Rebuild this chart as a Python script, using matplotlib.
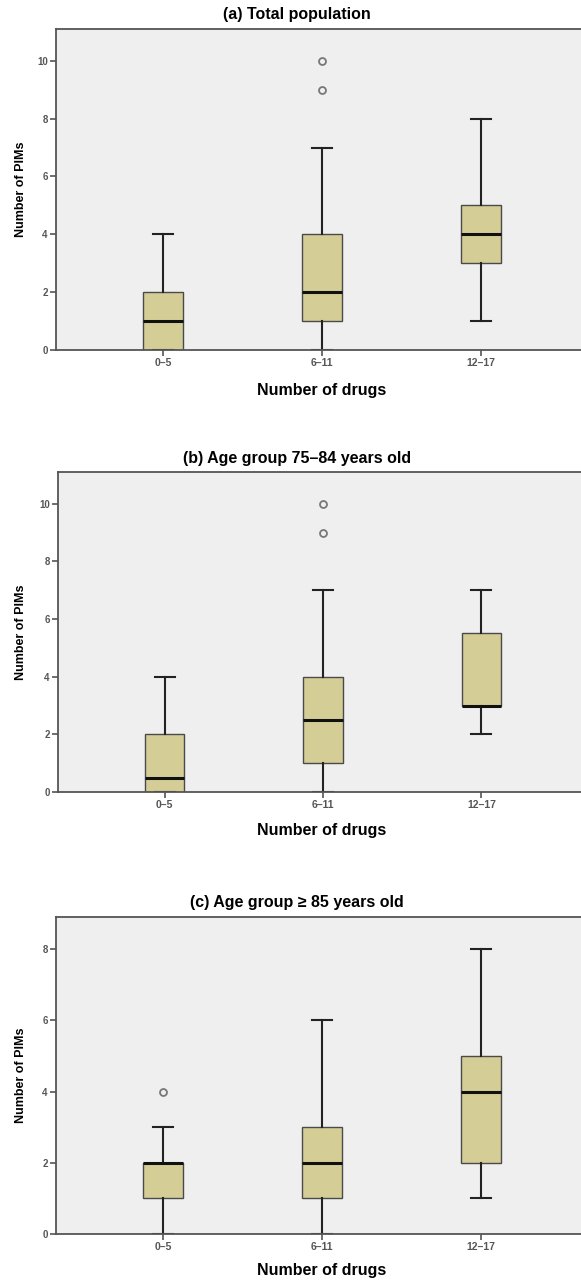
import matplotlib
matplotlib.use('Agg')
import matplotlib.pyplot as plt

# Number of PIMs by number of drugs, box summaries
categories = ['0\u20135', '6\u201311', '12\u201317']

titles = ['(a) Total population',
          '(b) Age group 75\u201384 years old',
          '(c) Age group \u2265 85 years old']

# order per panel: lower whisker, Q1, median, Q3, upper whisker
a_whislo = [0, 0, 1]
a_q1 = [0, 1, 3]
a_med = [1, 2, 4]
a_q3 = [2, 4, 5]
a_whishi = [4, 7, 8]
a_fliers = [[], [9, 10], []]

b_whislo = [0, 0, 2]
b_q1 = [0, 1, 3]
b_med = [0.5, 2.5, 3]
b_q3 = [2, 4, 5.5]
b_whishi = [4, 7, 7]
b_fliers = [[], [9, 10], []]

c_whislo = [0, 0, 1]
c_q1 = [1, 1, 2]
c_med = [2, 2, 4]
c_q3 = [2, 3, 5]
c_whishi = [3, 6, 8]
c_fliers = [[4], [], []]

panels = [
    (a_whislo, a_q1, a_med, a_q3, a_whishi, a_fliers, [0, 2, 4, 6, 8, 10], 11.1),
    (b_whislo, b_q1, b_med, b_q3, b_whishi, b_fliers, [0, 2, 4, 6, 8, 10], 11.1),
    (c_whislo, c_q1, c_med, c_q3, c_whishi, c_fliers, [0, 2, 4, 6, 8], 8.9),
]

plt.rcParams['font.family'] = ['Liberation Sans', 'DejaVu Sans']

W, H = 581, 1280
fig = plt.figure(figsize=(W / 100, H / 100), dpi=100)

# axes boxes in pixels: left, top, bottom ; right spine sits just off the canvas
ax_px = [(56, 29, 350), (58, 472, 792), (56, 917, 1234)]
title_y = [15, 458, 902]
xlab_y = [390, 830, 1271]

BOX = '#d4ce96'
EDGE = '#4a4a4a'
TICKC = '#555555'

for i, (wlo, q1, med, q3, whi, fl, yt, ytop) in enumerate(panels):
    left, top, bot = ax_px[i]
    right = 588
    ax = fig.add_axes([left / W, 1 - bot / H, (right - left) / W, (bot - top) / H])
    ax.set_facecolor('#efefef')

    stats = []
    for k in range(len(categories)):
        stats.append({'whislo': wlo[k], 'q1': q1[k], 'med': med[k],
                      'q3': q3[k], 'whishi': whi[k], 'fliers': fl[k]})

    ax.bxp(stats, positions=[1, 2, 3], widths=0.25, patch_artist=True,
           showfliers=True,
           boxprops=dict(facecolor=BOX, edgecolor=EDGE, linewidth=1.0),
           medianprops=dict(color='#111111', linewidth=2.2),
           whiskerprops=dict(color='#222222', linewidth=1.5),
           capprops=dict(color='#222222', linewidth=1.5),
           capwidths=0.125,
           flierprops=dict(marker='o', markersize=5, markerfacecolor='none',
                           markeredgecolor='#777777', markeredgewidth=1.3))

    ax.set_xlim(0.327, 3.673)
    ax.set_ylim(0, ytop)
    ax.set_yticks(yt)
    ax.set_xticks([1, 2, 3])
    ax.set_xticklabels(categories)

    for s in ['left', 'bottom', 'top', 'right']:
        ax.spines[s].set_color('#555555')
        ax.spines[s].set_linewidth(1.3)

    ax.tick_params(axis='both', colors=TICKC, length=4, width=1.2, pad=2)
    ax.tick_params(axis='x', labelsize=7.5)
    ax.tick_params(axis='y', labelsize=7)
    for lab in ax.get_xticklabels() + ax.get_yticklabels():
        lab.set_fontweight('bold')

    ax.set_ylabel('Number of PIMs', fontsize=9, fontweight='bold')
    ax.yaxis.set_label_coords((27 - left) / (right - left), 0.5)

    fig.text(322 / W, 1 - xlab_y[i] / H, 'Number of drugs', ha='center', va='center',
             fontsize=11.5, fontweight='bold')
    fig.text(297 / W, 1 - title_y[i] / H, titles[i], ha='center', va='center',
             fontsize=11.5, fontweight='bold')

fig.savefig('out.png', dpi=100, facecolor='white')
